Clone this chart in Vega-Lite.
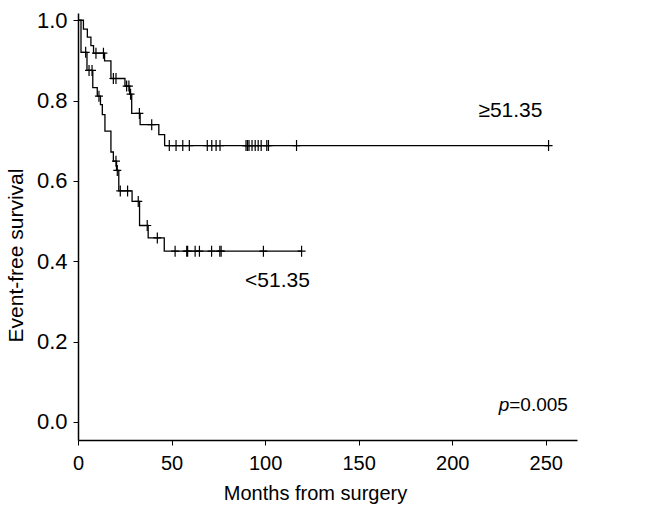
{
  "$schema": "https://vega.github.io/schema/vega-lite/v6.json",
  "autosize": "none",
  "width": 499,
  "height": 427,
  "padding": {"left": 78, "top": 13, "right": 80, "bottom": 70},
  "background": "white",
  "config": {
    "view": {"stroke": null},
    "font": "Liberation Sans",
    "axis": {
      "grid": false,
      "domainColor": "black",
      "domainWidth": 1.5,
      "tickColor": "black",
      "tickWidth": 1,
      "tickSize": 5,
      "labelColor": "black",
      "titleColor": "black",
      "labelFont": "Liberation Sans",
      "titleFont": "Liberation Sans",
      "titleFontWeight": "normal",
      "labelFontSize": 20,
      "titleFontSize": 21
    }
  },
  "datasets": {
    "km": [
      {"g": "hi", "m": 0, "s": 1.0, "c": 0},
      {"g": "hi", "m": 2.9, "s": 0.978, "c": 0},
      {"g": "hi", "m": 5.0, "s": 0.958, "c": 0},
      {"g": "hi", "m": 6.9, "s": 0.937, "c": 0},
      {"g": "hi", "m": 8.3, "s": 0.918, "c": 0},
      {"g": "hi", "m": 9.6, "s": 0.918, "c": 1},
      {"g": "hi", "m": 13.6, "s": 0.918, "c": 1},
      {"g": "hi", "m": 14.2, "s": 0.899, "c": 0},
      {"g": "hi", "m": 17.6, "s": 0.855, "c": 0},
      {"g": "hi", "m": 18.9, "s": 0.855, "c": 1},
      {"g": "hi", "m": 20.3, "s": 0.855, "c": 1},
      {"g": "hi", "m": 25.1, "s": 0.836, "c": 0},
      {"g": "hi", "m": 26.0, "s": 0.836, "c": 1},
      {"g": "hi", "m": 27.2, "s": 0.836, "c": 1},
      {"g": "hi", "m": 27.6, "s": 0.816, "c": 0},
      {"g": "hi", "m": 28.1, "s": 0.816, "c": 1},
      {"g": "hi", "m": 28.7, "s": 0.768, "c": 0},
      {"g": "hi", "m": 32.8, "s": 0.768, "c": 1},
      {"g": "hi", "m": 33.2, "s": 0.74, "c": 0},
      {"g": "hi", "m": 39.4, "s": 0.74, "c": 1},
      {"g": "hi", "m": 43.2, "s": 0.715, "c": 0},
      {"g": "hi", "m": 46.3, "s": 0.688, "c": 0},
      {"g": "hi", "m": 48.8, "s": 0.688, "c": 1},
      {"g": "hi", "m": 52.4, "s": 0.688, "c": 1},
      {"g": "hi", "m": 56.0, "s": 0.688, "c": 1},
      {"g": "hi", "m": 59.5, "s": 0.688, "c": 1},
      {"g": "hi", "m": 69.1, "s": 0.688, "c": 1},
      {"g": "hi", "m": 71.5, "s": 0.688, "c": 1},
      {"g": "hi", "m": 73.8, "s": 0.688, "c": 1},
      {"g": "hi", "m": 75.9, "s": 0.688, "c": 1},
      {"g": "hi", "m": 89.8, "s": 0.688, "c": 1},
      {"g": "hi", "m": 90.6, "s": 0.688, "c": 1},
      {"g": "hi", "m": 91.4, "s": 0.688, "c": 1},
      {"g": "hi", "m": 93.0, "s": 0.688, "c": 1},
      {"g": "hi", "m": 94.7, "s": 0.688, "c": 1},
      {"g": "hi", "m": 96.3, "s": 0.688, "c": 1},
      {"g": "hi", "m": 97.9, "s": 0.688, "c": 1},
      {"g": "hi", "m": 100.9, "s": 0.688, "c": 1},
      {"g": "hi", "m": 101.8, "s": 0.688, "c": 1},
      {"g": "hi", "m": 116.8, "s": 0.688, "c": 1},
      {"g": "hi", "m": 251.5, "s": 0.688, "c": 1},
      {"g": "lo", "m": 0, "s": 1.0, "c": 0},
      {"g": "lo", "m": 1.6, "s": 0.92, "c": 0},
      {"g": "lo", "m": 4.1, "s": 0.92, "c": 1},
      {"g": "lo", "m": 4.8, "s": 0.875, "c": 0},
      {"g": "lo", "m": 5.9, "s": 0.875, "c": 1},
      {"g": "lo", "m": 7.5, "s": 0.875, "c": 1},
      {"g": "lo", "m": 7.9, "s": 0.832, "c": 0},
      {"g": "lo", "m": 10.3, "s": 0.811, "c": 0},
      {"g": "lo", "m": 11.2, "s": 0.811, "c": 1},
      {"g": "lo", "m": 12.0, "s": 0.79, "c": 0},
      {"g": "lo", "m": 13.0, "s": 0.765, "c": 0},
      {"g": "lo", "m": 14.4, "s": 0.724, "c": 0},
      {"g": "lo", "m": 17.6, "s": 0.672, "c": 0},
      {"g": "lo", "m": 18.9, "s": 0.649, "c": 0},
      {"g": "lo", "m": 20.3, "s": 0.649, "c": 1},
      {"g": "lo", "m": 20.6, "s": 0.626, "c": 0},
      {"g": "lo", "m": 21.0, "s": 0.626, "c": 1},
      {"g": "lo", "m": 21.8, "s": 0.575, "c": 0},
      {"g": "lo", "m": 22.6, "s": 0.575, "c": 1},
      {"g": "lo", "m": 26.5, "s": 0.575, "c": 1},
      {"g": "lo", "m": 28.9, "s": 0.549, "c": 0},
      {"g": "lo", "m": 32.2, "s": 0.549, "c": 1},
      {"g": "lo", "m": 32.9, "s": 0.489, "c": 0},
      {"g": "lo", "m": 37.0, "s": 0.489, "c": 1},
      {"g": "lo", "m": 37.5, "s": 0.458, "c": 0},
      {"g": "lo", "m": 42.4, "s": 0.458, "c": 1},
      {"g": "lo", "m": 46.1, "s": 0.425, "c": 0},
      {"g": "lo", "m": 51.9, "s": 0.425, "c": 1},
      {"g": "lo", "m": 58.1, "s": 0.425, "c": 1},
      {"g": "lo", "m": 58.6, "s": 0.425, "c": 1},
      {"g": "lo", "m": 62.6, "s": 0.425, "c": 1},
      {"g": "lo", "m": 64.9, "s": 0.425, "c": 1},
      {"g": "lo", "m": 71.4, "s": 0.425, "c": 1},
      {"g": "lo", "m": 75.8, "s": 0.425, "c": 1},
      {"g": "lo", "m": 76.5, "s": 0.425, "c": 1},
      {"g": "lo", "m": 99.1, "s": 0.425, "c": 1},
      {"g": "lo", "m": 119.5, "s": 0.425, "c": 1}
    ],
    "labels": [
      {"t": "≥51.35", "m": 214, "s": 0.76},
      {"t": "<51.35", "m": 89.3, "s": 0.337}
    ],
    "pval": [
      {"m": 230.5, "s": 0.027}
    ]
  },
  "layer": [
    {
      "data": {"name": "km"},
      "mark": {"type": "line", "interpolate": "step-after", "color": "black", "strokeWidth": 1.3},
      "encoding": {
        "x": {
          "field": "m", "type": "quantitative",
          "scale": {"domain": [0, 266.7], "nice": false, "zero": false},
          "axis": {
            "title": "Months from surgery",
            "values": [0, 50, 100, 150, 200, 250],
            "labelPadding": 8,
            "labelFlush": false,
            "titleX": 237,
            "titleY": 59,
            "titleAlign": "center",
            "titleBaseline": "alphabetic",
            "titleFontSize": 20
          }
        },
        "y": {
          "field": "s", "type": "quantitative",
          "scale": {"domain": [-0.045, 1.018], "nice": false, "zero": false},
          "axis": {
            "title": "Event-free survival",
            "values": [0, 0.2, 0.4, 0.6, 0.8, 1.0],
            "format": ".1f",
            "labelPadding": 6,
            "labelFontSize": 22,
            "labelFlush": false,
            "titleX": -56,
            "titleY": 242,
            "titleAngle": 270,
            "titleAlign": "center",
            "titleBaseline": "alphabetic",
            "titleFontSize": 21
          }
        },
        "detail": {"field": "g"}
      }
    },
    {
      "data": {"name": "km"},
      "transform": [{"filter": "datum.c == 1"}],
      "mark": {"type": "point", "shape": "M-0.8,0H0.8M0,-1.1V1.1", "size": 100, "filled": false, "stroke": "black", "strokeWidth": 1.2, "opacity": 1},
      "encoding": {
        "x": {"field": "m", "type": "quantitative"},
        "y": {"field": "s", "type": "quantitative"}
      }
    },
    {
      "data": {"name": "labels"},
      "mark": {"type": "text", "align": "left", "baseline": "alphabetic", "fontSize": 21, "font": "Liberation Sans", "color": "black"},
      "encoding": {
        "x": {"field": "m", "type": "quantitative"},
        "y": {"field": "s", "type": "quantitative"},
        "text": {"field": "t"}
      }
    },
    {
      "data": {"name": "pval"},
      "mark": {"type": "text", "text": "p", "align": "right", "baseline": "alphabetic", "fontSize": 19, "fontStyle": "italic", "font": "Liberation Sans", "color": "black"},
      "encoding": {
        "x": {"field": "m", "type": "quantitative"},
        "y": {"field": "s", "type": "quantitative"}
      }
    },
    {
      "data": {"name": "pval"},
      "mark": {"type": "text", "text": "=0.005", "align": "left", "baseline": "alphabetic", "fontSize": 19, "font": "Liberation Sans", "color": "black"},
      "encoding": {
        "x": {"field": "m", "type": "quantitative"},
        "y": {"field": "s", "type": "quantitative"}
      }
    }
  ]
}
